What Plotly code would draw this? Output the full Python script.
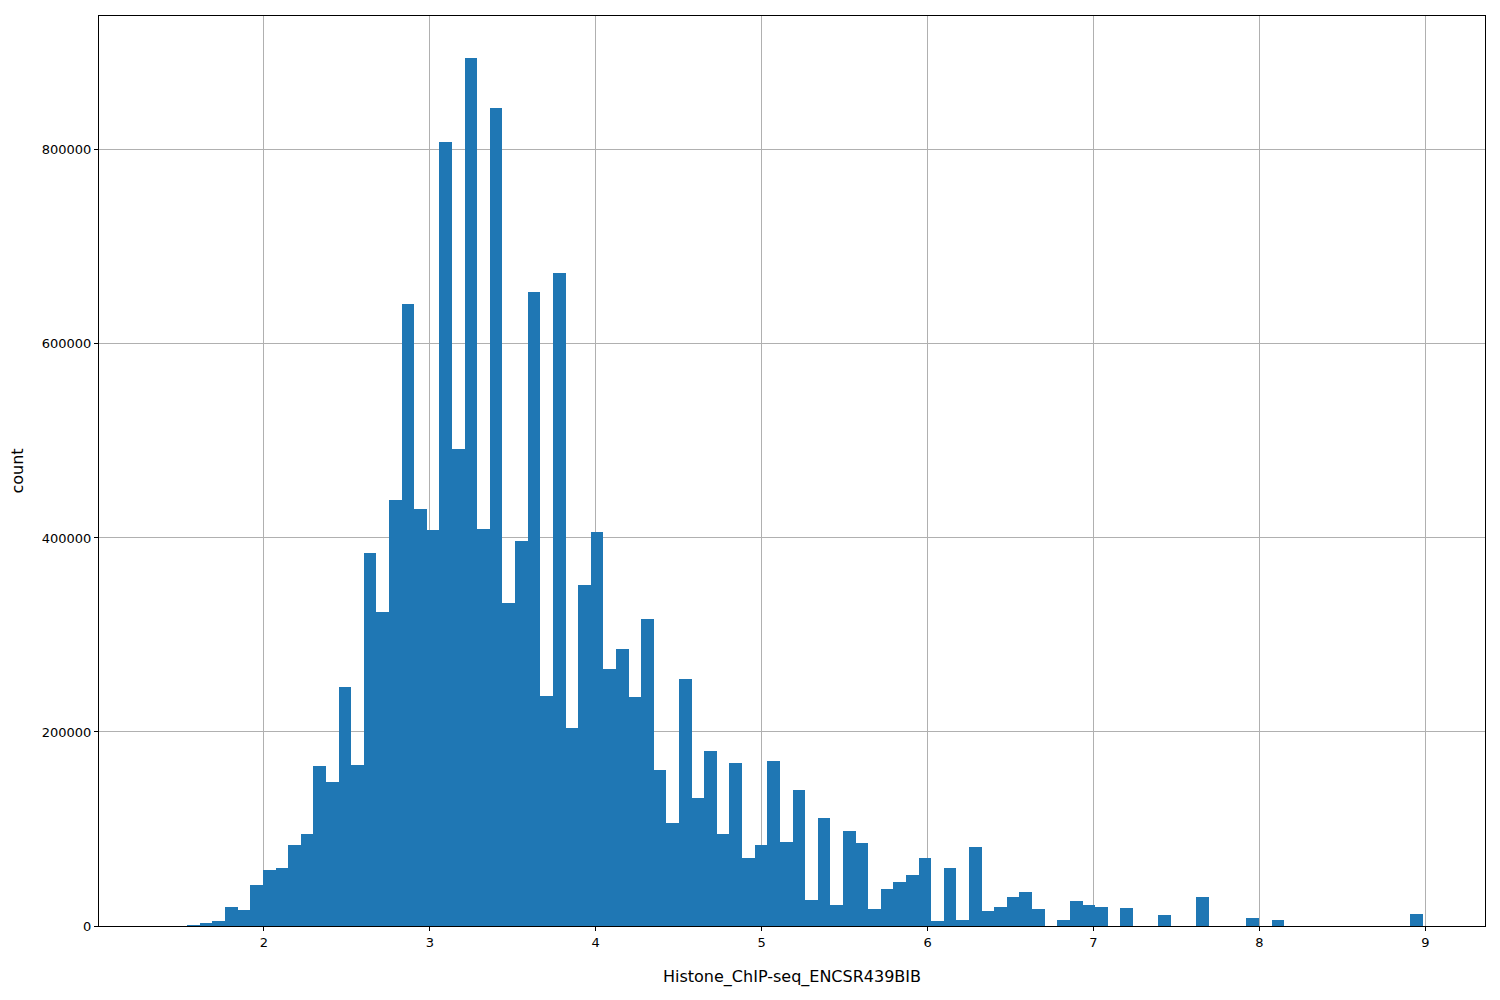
import plotly.graph_objects as go

bin_start = 1.386
bin_width = 0.076
counts = [0, 0, 1000, 3000, 5000, 20000, 17000, 42000, 58000, 60000,
          84000, 95000, 165000, 148000, 246000, 166000, 384000, 324000, 439000, 641000,
          430000, 408000, 808000, 492000, 895000, 409000, 843000, 333000, 397000, 654000,
          237000, 673000, 204000, 351000, 406000, 265000, 286000, 236000, 316000, 161000,
          106000, 255000, 132000, 180000, 95000, 168000, 70000, 84000, 170000, 87000,
          140000, 27000, 111000, 22000, 98000, 86000, 18000, 38000, 45000, 53000,
          70000, 5000, 60000, 6000, 81000, 15000, 20000, 30000, 35000, 18000,
          0, 6000, 26000, 22000, 20000, 0, 19000, 0, 0, 11000,
          0, 0, 30000, 0, 0, 0, 8000, 0, 6000, 0,
          0, 0, 0, 0, 0, 0, 0, 0, 0, 12000]
xticks = [2, 3, 4, 5, 6, 7, 8, 9]
yticks = [0, 200000, 400000, 600000, 800000]

centers = [bin_start + bin_width * (i + 0.5) for i in range(len(counts))]
fig = go.Figure(go.Bar(x=centers, y=counts, width=bin_width,
                       marker=dict(color="#1f77b4", line=dict(width=0))))
ax = dict(showline=True, linecolor="black", mirror=True, ticks="outside",
          ticklen=4, tickcolor="black", gridcolor="#b0b0b0", gridwidth=1,
          zeroline=False, tickfont=dict(size=13, color="black"))
fig.update_layout(
    width=1500, height=1000, plot_bgcolor="white", paper_bgcolor="white",
    margin=dict(l=91, r=23, t=8, b=82), bargap=0, showlegend=False,
    font=dict(family="DejaVu Sans", size=13, color="black"),
    xaxis=dict(ax, range=[1.006, 9.36], tickvals=xticks,
               title=dict(text="Histone_ChIP-seq_ENCSR439BIB", standoff=22)),
    yaxis=dict(ax, range=[0, 938000], tickvals=yticks, tickformat="d",
               title=dict(text="count", standoff=14)),
)
fig.write_html("out.html")
